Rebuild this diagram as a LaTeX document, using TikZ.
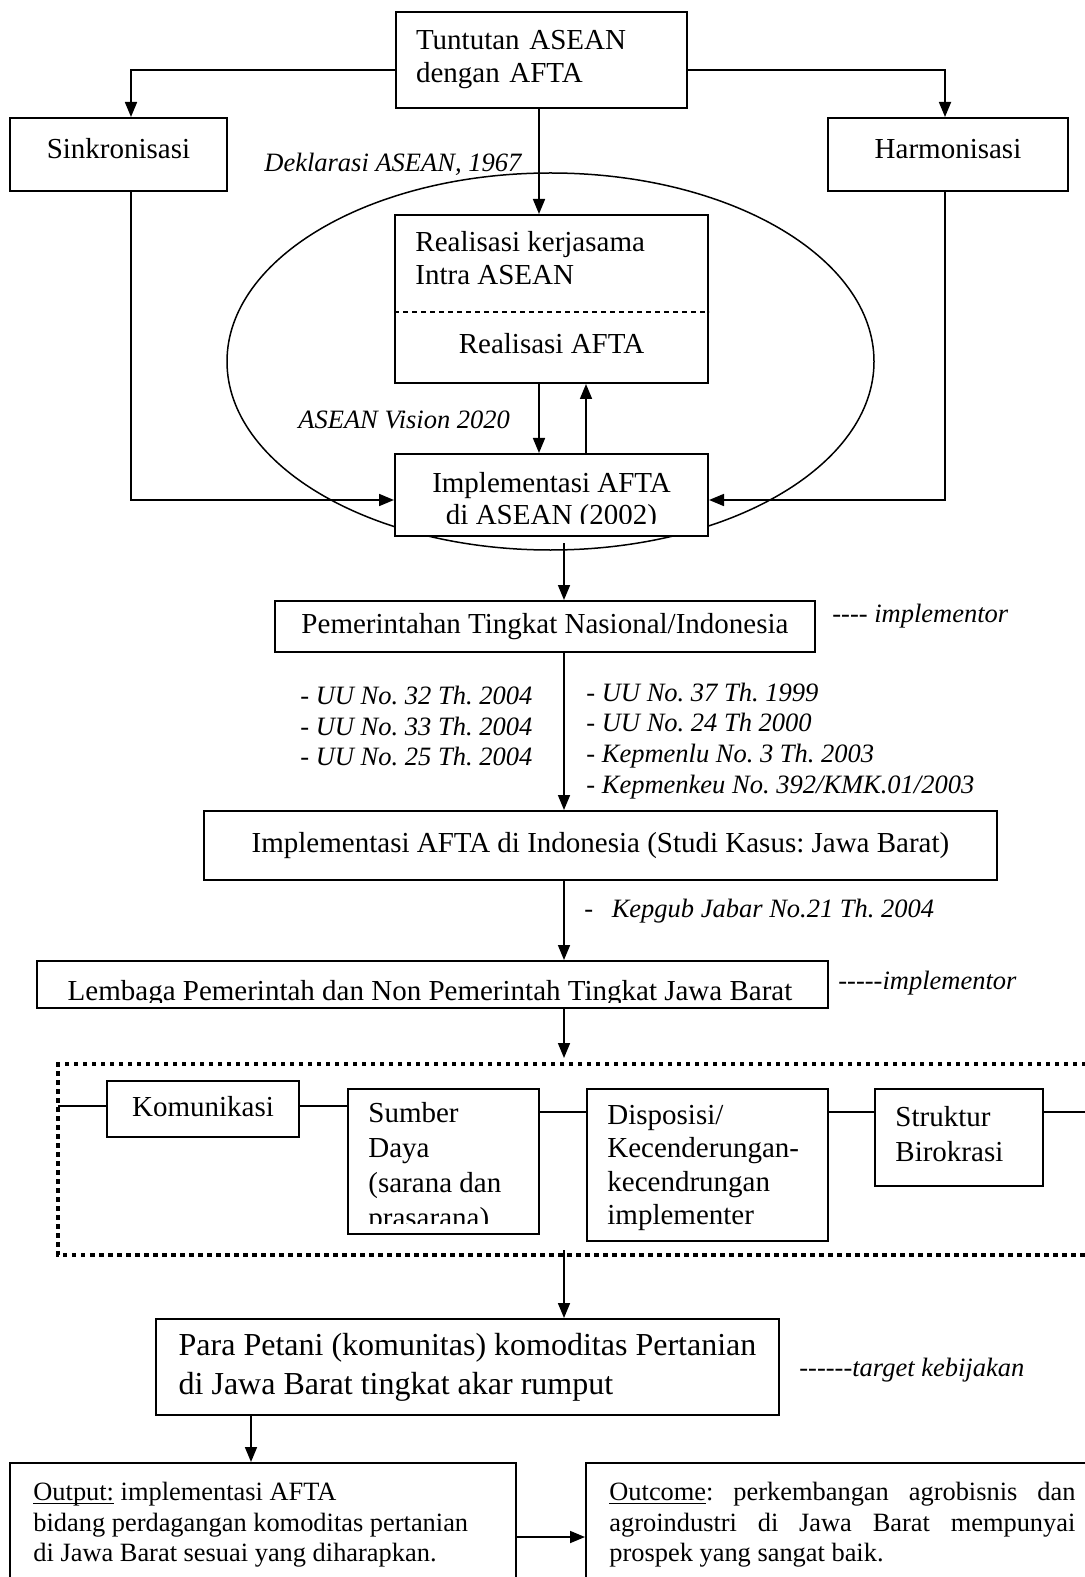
\documentclass[tikz,border=0pt]{standalone}
\usepackage{fontspec}
\setmainfont{Liberation Serif}
\usetikzlibrary{arrows.meta}
\hyphenpenalty=10000
\frenchspacing
\newcommand{\garis}[1]{\setbox0\hbox{#1}\rlap{\rule[-1.6pt]{\wd0}{0.6pt}}\box0\relax}

\begin{document}
\begin{tikzpicture}[x=0.5pt, y=-0.5pt,
  box/.style={draw, line width=1pt, fill=white, inner sep=0pt, font=\fontsize{14.5}{16.5}\selectfont},
  txt/.style={inner sep=0pt, align=left, font=\fontsize{14.5}{16.75}\selectfont},
  note/.style={inner sep=0pt, align=left, font=\itshape\fontsize{13.25}{15.4}\selectfont},
  arr/.style={line width=0.85pt, -{Triangle[length=7.5pt,width=6pt]}},
  link/.style={line width=0.85pt},
  frame/.style={line width=2pt, dash pattern=on 2.25pt off 2.25pt}]

\clip (0,0) rectangle (1085,1577);

% Tuntutan dan dua cabangnya
\node[box, minimum width=145.5pt, minimum height=48pt, text width=125.5pt, inner xsep=10pt, align=left] (tuntutan) at (541.5,60) {Tuntutan ASEAN\\dengan AFTA};
\node[box, minimum width=108.5pt, minimum height=36.5pt, text depth=6pt] (sinkron) at (118.5,154.5) {Sinkronisasi};
\node[box, minimum width=120pt, minimum height=36.5pt, text depth=6pt] (harmon) at (948,154.5) {Harmonisasi};

\coordinate (cabang) at (0,70);
\draw[arr] (tuntutan.west |- cabang) -| ([xshift=6.25pt]sinkron.north);
\draw[arr] (tuntutan.east |- cabang) -| ([xshift=-1.5pt]harmon.north);

% Lingkup ASEAN
\draw[line width=0.75pt] (550.5,361.5) ellipse [x radius=161.75pt, y radius=94.25pt];

\node[box, minimum width=156.5pt, minimum height=84pt] (realis) at (551.5,299) {};
\node[txt, anchor=west] (kerja) at (415,258) {Realisasi kerjasama\\Intra ASEAN};
\coordinate (sekat) at (0,312);
\draw[line width=0.8pt, dash pattern=on 2.5pt off 2pt] (realis.west |- sekat) -- (realis.east |- sekat);
\node[txt] (rafta) at (551.5,344) {Realisasi AFTA};

\node[box, minimum width=156.5pt, minimum height=41pt] (impl) at (551.5,495) {};
\begin{scope}
  \clip (395,454) rectangle (708,523);
  \node[txt, align=center, font=\fontsize{14.5}{16pt}\selectfont] (impltxt) at (551.5,502) {Implementasi AFTA\\di ASEAN (2002)};
\end{scope}

\node[note, anchor=west] (deklarasi) at (264,164) {Deklarasi ASEAN, 1967};
\node[note, anchor=west] (vision) at (298,420) {ASEAN Vision 2020};

\coordinate (jalur) at (539,0);
\coordinate (balik) at (586,0);
\coordinate (masuk) at (0,500);
\draw[arr] (tuntutan.south -| jalur) -- (realis.north -| jalur);
\draw[arr] (realis.south -| jalur) -- (impl.north -| jalur);
\draw[arr] (impl.north -| balik) -- (realis.south -| balik);
\draw[arr] ([xshift=6.25pt]sinkron.south) |- (impl.west |- masuk);
\draw[arr] ([xshift=-1.5pt]harmon.south) |- (impl.east |- masuk);

% Tingkat nasional
\node[box, minimum width=270pt, minimum height=25.5pt] (pemer) at (545,626.5) {Pemerintahan Tingkat Nasional/Indonesia};
\coordinate (tengah) at (564,543);
\draw[arr] (tengah) -- (tengah |- pemer.north);
\node[note, anchor=west] (impl1) at (832,616) {-{}-{}-{}- implementor};

\node[note, anchor=west] (uukiri) at (300,726) {- UU No. 32 Th. 2004\\- UU No. 33 Th. 2004\\- UU No. 25 Th. 2004};
\node[note, anchor=west] (uukanan) at (586,741) {- UU No. 37 Th. 1999\\- UU No. 24 Th 2000\\- Kepmenlu No. 3 Th. 2003\\- Kepmenkeu No. 392/KMK.01/2003};

\node[box, minimum width=396.5pt, minimum height=34.5pt] (implind) at (600.5,845.5) {Implementasi AFTA di Indonesia (Studi Kasus: Jawa Barat)};
\draw[arr] (pemer.south -| tengah) -- (implind.north -| tengah);
\node[note, anchor=west] (kepgub) at (584,911) {-\hspace{0.7em}Kepgub Jabar No.21 Th. 2004};

% Tingkat Jawa Barat
\node[box, minimum width=395.5pt, minimum height=23.5pt] (lembaga) at (432.5,984.5) {};
\begin{scope}
  \clip (37,961) rectangle (828,1002);
  \node[txt, anchor=base] (lembagatxt) at (430,1000) {Lembaga Pemerintah dan Non Pemerintah Tingkat Jawa Barat};
\end{scope}
\draw[arr] (implind.south -| tengah) -- (lembaga.north -| tengah);
\node[note, anchor=west] (impl2) at (838,983) {-{}-{}-{}-{}-implementor};

\coordinate (ataskotak) at (564,1058);
\draw[arr] (lembaga.south -| tengah) -- (ataskotak);

% Kotak variabel implementasi
\draw[frame] (1095,1064) -- (58,1064) -- (58,1255) -- (1095,1255);

\node[box, minimum width=96pt, minimum height=28pt, text depth=3pt] (komunikasi) at (203,1109) {Komunikasi};
\node[box, minimum width=95.5pt, minimum height=72.5pt] (sumber) at (443.5,1161.5) {};
\begin{scope}
  \clip (348,1089) rectangle (539,1223);
  \node[txt, anchor=west, font=\fontsize{14.5}{17.5}\selectfont] (sumbertxt) at (368,1168.5) {Sumber\\Daya\\(sarana dan\\prasarana)};
\end{scope}
\node[box, minimum width=120.5pt, minimum height=76pt] (dispo) at (707.5,1165) {};
\node[txt, anchor=west] (dispotxt) at (607,1168) {Disposisi/\\Kecenderungan-\\kecendrungan\\implementer};
\node[box, minimum width=84pt, minimum height=48.5pt] (struktur) at (959,1137.5) {};
\node[txt, anchor=west, font=\fontsize{14.5}{17.5}\selectfont] (strukturtxt) at (895,1134.5) {Struktur\\Birokrasi};

\coordinate (garis1) at (58,1106);
\coordinate (garis2) at (1095,1112);
\draw[link] (garis1) -- (komunikasi.west |- garis1);
\draw[link] (komunikasi.east |- garis1) -- (sumber.west |- garis1);
\draw[link] (sumber.east |- garis2) -- (dispo.west |- garis2);
\draw[link] (dispo.east |- garis2) -- (struktur.west |- garis2);
\draw[link] (struktur.east |- garis2) -- (garis2);

% Sasaran, output dan outcome
\coordinate (bawahkotak) at (564,1250);
\node[box, minimum width=311.5pt, minimum height=48pt, align=left, font=\fontsize{16}{19.5}\selectfont] (petani) at (467.5,1367) {Para Petani (komunitas) komoditas Pertanian\\di Jawa Barat tingkat akar rumput};
\draw[arr] (bawahkotak) -- (bawahkotak |- petani.north);
\node[note, anchor=west] (target) at (799,1370) {-{}-{}-{}-{}-{}-target kebijakan};

\node[box, minimum width=253pt, minimum height=70pt] (output) at (263,1533) {};
\node[txt, anchor=west, font=\fontsize{13.2}{15.25}\selectfont] (outputtxt) at (33,1525) {\garis{Output:} implementasi AFTA\\bidang perdagangan komoditas pertanian\\di Jawa Barat sesuai yang diharapkan.};
\node[box, minimum width=260pt, minimum height=70pt] (outcome) at (846,1533) {};
\node[txt, anchor=west, text width=233pt, align=justify, font=\fontsize{13.2}{15.25}\selectfont] (outcometxt) at (609,1525) {\garis{Outcome}: perkembangan agrobisnis dan agroindustri di Jawa Barat mempunyai prospek yang sangat baik.};

\coordinate (turun) at (251,0);
\coordinate (hasil) at (0,1537);
\draw[arr] (petani.south -| turun) -- (output.north -| turun);
\draw[arr] (output.east |- hasil) -- (outcome.west |- hasil);

\end{tikzpicture}
\end{document}
